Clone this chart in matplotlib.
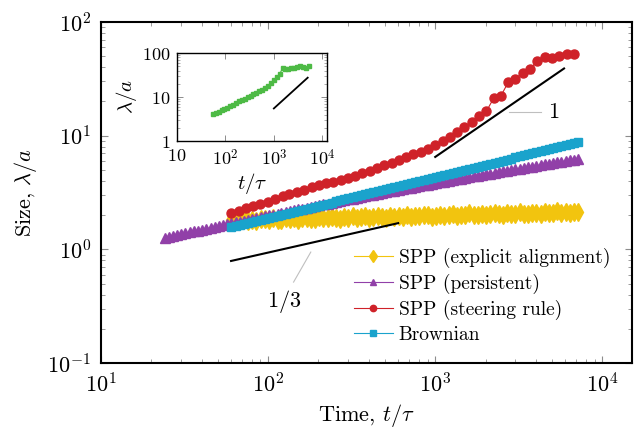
import numpy as np
import matplotlib.pyplot as plt
from matplotlib.ticker import LogLocator, NullFormatter, FixedLocator, FixedFormatter

plt.rcParams['font.family'] = 'serif'
plt.rcParams['font.serif'] = ['cmr10']
plt.rcParams['mathtext.fontset'] = 'cm'
plt.rcParams['axes.formatter.use_mathtext'] = True

# sampling times shared by the dense series (persistent / Brownian / alignment)
t_dense = [24.0, 25.4, 26.9, 28.5, 30.2, 32.0, 33.9, 35.9, 38.0, 40.3,
           42.7, 45.2, 47.9, 50.7, 53.7, 56.9, 60.3, 63.8, 67.6, 71.6,
           75.9, 80.4, 85.1, 90.2, 95.5, 101, 107, 114, 120, 128,
           135, 143, 151, 160, 170, 180, 191, 202, 214, 227,
           240, 254, 269, 285, 302, 320, 339, 359, 380, 403,
           427, 452, 479, 507, 537, 569, 603, 638, 676, 716,
           759, 804, 851, 902, 955, 1012, 1072, 1135, 1202, 1274,
           1349, 1429, 1514, 1603, 1698, 1799, 1905, 2018, 2138, 2265,
           2399, 2541, 2692, 2851, 3020, 3199, 3388, 3589, 3802, 4027,
           4266, 4519, 4786, 5070, 5370, 5689, 6026, 6383, 6761, 7161]

persistent = [1.259, 1.283, 1.307, 1.332, 1.358, 1.383, 1.409, 1.436, 1.463, 1.490,
              1.518, 1.547, 1.575, 1.604, 1.633, 1.663, 1.693, 1.724, 1.756, 1.787,
              1.820, 1.852, 1.886, 1.919, 1.953, 1.988, 2.023, 2.059, 2.095, 2.132,
              2.169, 2.207, 2.245, 2.284, 2.323, 2.362, 2.403, 2.443, 2.485, 2.527,
              2.569, 2.612, 2.656, 2.700, 2.745, 2.791, 2.837, 2.884, 2.931, 2.979,
              3.027, 3.076, 3.126, 3.176, 3.227, 3.279, 3.331, 3.384, 3.437, 3.491,
              3.546, 3.602, 3.658, 3.714, 3.772, 3.830, 3.889, 3.948, 4.008, 4.069,
              4.130, 4.192, 4.255, 4.318, 4.382, 4.447, 4.512, 4.578, 4.645, 4.713,
              4.781, 4.850, 4.920, 4.990, 5.062, 5.134, 5.206, 5.279, 5.353, 5.428,
              5.503, 5.580, 5.656, 5.734, 5.813, 5.892, 5.972, 6.053, 6.134, 6.216]

# Brownian and explicit alignment start at t ~ 60 (index 16 of t_dense)
brownian = [1.570, 1.603, 1.637, 1.671, 1.706, 1.742, 1.778, 1.816, 1.854, 1.892,
            1.932, 1.972, 2.014, 2.056, 2.099, 2.143, 2.188, 2.234, 2.280, 2.328,
            2.377, 2.427, 2.477, 2.529, 2.582, 2.636, 2.692, 2.748, 2.805, 2.864,
            2.924, 2.985, 3.048, 3.112, 3.177, 3.243, 3.311, 3.381, 3.451, 3.524,
            3.597, 3.673, 3.750, 3.828, 3.908, 3.990, 4.074, 4.159, 4.246, 4.335,
            4.426, 4.519, 4.613, 4.710, 4.808, 4.909, 5.012, 5.117, 5.224, 5.333,
            5.445, 5.559, 5.675, 5.794, 5.916, 6.039, 6.166, 6.295, 6.427, 6.561,
            6.699, 6.839, 6.982, 7.129, 7.278, 7.430, 7.586, 7.745, 7.907, 8.072,
            8.241, 8.414, 8.590, 8.770]

alignment = [1.82, 1.77, 1.82, 1.85, 1.79, 1.82, 1.78, 1.86, 1.84, 1.82,
             1.89, 1.82, 1.81, 1.87, 1.85, 1.89, 1.82, 1.87, 1.89, 1.86,
             1.84, 1.92, 1.88, 1.87, 1.92, 1.90, 1.85, 1.92, 1.89, 1.95,
             1.89, 1.92, 1.95, 1.89, 1.94, 1.98, 1.92, 1.90, 1.96, 1.94,
             1.98, 1.93, 2.00, 1.93, 1.97, 1.96, 1.99, 2.02, 1.94, 1.98,
             2.02, 1.97, 2.00, 2.04, 1.97, 2.02, 2.00, 2.07, 1.99, 2.02,
             2.05, 1.99, 2.05, 2.08, 2.03, 2.01, 2.08, 2.06, 2.03, 2.12,
             2.06, 2.03, 2.10, 2.09, 2.03, 2.13, 2.09, 2.07, 2.16, 2.08,
             2.13, 2.07, 2.12, 2.15]

t_steer = [60.3, 66.7, 73.6, 81.4, 90.0, 99.5, 110, 122, 134, 149,
           164, 182, 201, 222, 246, 272, 300, 332, 367, 406,
           449, 496, 548, 607, 670, 741, 820, 906, 1002, 1107,
           1224, 1355, 1496, 1656, 1828, 2023, 2239, 2472, 2735, 3020,
           3342, 3698, 4083, 4519, 4989, 5521, 6109, 6745]
steering = [2.09, 2.19, 2.29, 2.40, 2.51, 2.63, 2.75, 2.92, 3.05, 3.20,
            3.35, 3.51, 3.65, 3.80, 3.94, 4.09, 4.25, 4.46, 4.68, 4.93,
            5.22, 5.53, 5.80, 6.10, 6.46, 6.85, 7.25, 7.70, 8.25, 8.90,
            9.75, 10.7, 11.8, 13.1, 14.8, 16.4, 21.4, 22.4, 29.5, 31.6,
            35.9, 38.5, 45.7, 49.0, 47.9, 50.1, 51.9, 52.5]
steering_err = [0.01] * 30 + [0.02, 0.02, 0.03, 0.03, 0.04, 0.04, 0.06, 0.05, 0.07,
                              0.06, 0.06, 0.07, 0.06, 0.06, 0.05, 0.05, 0.04, 0.04]

# inset
t_inset = [55.0, 63.1, 72.4, 83.2, 95.5, 110, 126, 145, 166, 191,
           219, 251, 288, 331, 380, 437, 501, 575, 661, 759,
           871, 1000, 1148, 1318, 1514, 1738, 1995, 2291, 2630, 3020,
           3467, 3981, 4571, 5248]
y_inset = [4.11, 4.37, 4.68, 5.01, 5.35, 5.75, 6.24, 6.76, 7.33, 7.94,
           8.51, 9.12, 10.0, 10.7, 11.5, 12.3, 13.5, 14.8, 16.2, 18.2,
           20.4, 24.0, 28.2, 33.1, 45.7, 43.7, 42.7, 45.7, 46.8, 49.0,
           51.3, 47.9, 45.7, 50.1]

# power-law guides
guide13_t = [60, 600]
guide13_y = [0.79, 1.70]
guide1_t = [1000, 5900]
guide1_y = [6.5, 39]
inset_guide_t = [1000, 5000]
inset_guide_y = [5.5, 27.5]

c_yellow = '#F2C40F'
c_purple = '#9140A8'
c_red = '#CF2229'
c_cyan = '#1AA3CC'
c_green = '#4DBA45'

fig = plt.figure(figsize=(6.41, 4.40), dpi=100)
ax = fig.add_axes([0.1576, 0.175, 0.828, 0.775])

t_short = t_dense[16:]
ax.plot(t_short, alignment, color=c_yellow, marker='d', ms=9, lw=0.8,
        label='SPP (explicit alignment)')
ax.plot(t_dense, persistent, color=c_purple, marker='^', ms=6.5, lw=0.8,
        label='SPP (persistent)')
err = np.array(steering) * np.array(steering_err)
ax.errorbar(t_steer, steering, yerr=err, fmt='none', ecolor='#8A1A1E',
            elinewidth=0.8, capsize=2.5)
ax.plot(t_steer, steering, color=c_red, marker='o', ms=6.5, lw=0.8,
        label='SPP (steering rule)')
ax.plot(t_short, brownian, color=c_cyan, marker='s', ms=6, lw=0.8,
        label='Brownian')

ax.plot(guide13_t, guide13_y, color='black', lw=1.5)
ax.plot(guide1_t, guide1_y, color='black', lw=1.5)
ax.plot([2760, 4300], [16.1, 16.1], color='0.75', lw=0.8)
ax.text(5100, 16.1, '$1$', fontsize=16, ha='center', va='center')
ax.plot([142, 180], [0.515, 0.946], color='0.75', lw=0.8)
ax.text(124, 0.351, '$1/3$', fontsize=16, ha='center', va='center')

ax.set_xscale('log')
ax.set_yscale('log')
ax.set_xlim(10, 1.5e4)
ax.set_ylim(0.1, 100)
ax.xaxis.set_major_locator(LogLocator(base=10, numticks=10))
ax.yaxis.set_major_locator(LogLocator(base=10, numticks=10))
ax.tick_params(which='both', direction='in', top=True, right=True, color='0.55',
               labelsize=16)
ax.tick_params(which='major', length=5, width=0.8, pad=7)
ax.tick_params(which='minor', length=3, width=0.6)
for s in ax.spines.values():
    s.set_linewidth(1.5)
ax.set_xlabel(r'Time, $t/\tau$', fontsize=16, labelpad=4)
ax.set_ylabel(r'Size, $\lambda/a$', fontsize=16, labelpad=6)

ax.legend(loc='upper left', bbox_to_anchor=(0.552, 0.437), bbox_transform=fig.transFigure,
          frameon=False, fontsize=14, handlelength=2.0, handletextpad=0.3,
          labelspacing=0.3, borderpad=0, borderaxespad=0, markerscale=0.7)

# inset
ins = fig.add_axes([0.2761, 0.6795, 0.234, 0.2])
ins.plot(t_inset, y_inset, color=c_green, marker='s', ms=3.3, lw=0.8)
ins.plot(inset_guide_t, inset_guide_y, color='black', lw=1.3)
ins.set_xscale('log')
ins.set_yscale('log')
ins.set_xlim(10, 1.25e4)
ins.set_ylim(1, 100)
ins.xaxis.set_major_locator(FixedLocator([10, 100, 1000, 10000]))
ins.xaxis.set_major_formatter(FixedFormatter(['$10$', '$10^2$', '$10^3$', '$10^4$']))
ins.yaxis.set_major_locator(FixedLocator([1, 10, 100]))
ins.yaxis.set_major_formatter(FixedFormatter(['$1$', '$10$', '$100$']))
ins.xaxis.set_minor_formatter(NullFormatter())
ins.yaxis.set_minor_formatter(NullFormatter())
ins.tick_params(which='both', direction='in', top=True, right=True, color='0.55',
                labelsize=13)
ins.tick_params(which='major', length=4, width=0.7, pad=5)
ins.tick_params(which='minor', length=2.5, width=0.5)
for s in ins.spines.values():
    s.set_linewidth(1.0)
ins.set_xlabel(r'$t/\tau$', fontsize=15, labelpad=2)
ins.set_ylabel(r'$\lambda/a$', fontsize=15, labelpad=2)

fig.savefig('out.png', dpi=100)
